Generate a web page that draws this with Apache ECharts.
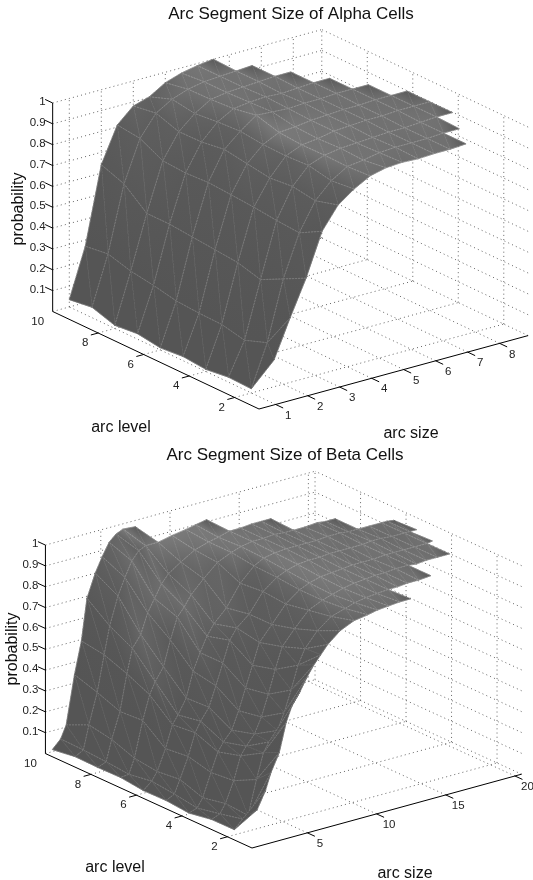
<!DOCTYPE html>
<html><head><meta charset="utf-8">
<style>html,body{margin:0;padding:0;background:#fff}#c{width:533px;height:880px}</style>
<script src="https://cdn.jsdelivr.net/npm/echarts@6/dist/echarts.min.js"></script>
</head><body><div id="c"></div>
<script>
const probTicks = [0.1,0.2,0.3,0.4,0.5,0.6,0.7,0.8,0.9,1];
const probLabels = ['0.1','0.2','0.3','0.4','0.5','0.6','0.7','0.8','0.9','1'];
const levelTicks = [2,4,6,8,10];
const levels = [1,2,3,4,5,6,7,8,9,10];
const alphaSizeTicks = [1,2,3,4,5,6,7,8];
const betaSizeTicks = [5,10,15,20];
const alphaSizes = [1,1.5,2,2.5,3,3.5,4,4.5,5,5.5,6,6.5,7,7.5,8];
const alphaProb = [
 [.21,.39,.56,.764,.869,.925,.967,.985,.99,.986,.99,.99,.995],
 [.02,.22,.505,.705,.838,.913,.96,.97,.985,.99,.99,.99,.995,.995],
 [.024,.18,.45,.713,.855,.935,.963,.975,.98,.985,.99,.99,.995,1,1],
 [.01,.204,.48,.725,.844,.929,.961,.97,.985,.99,.995,.995,1,1,1],
 [.02,.207,.49,.733,.861,.932,.969,.975,.985,.99,.995,.995,1,1,1],
 [.01,.214,.5,.74,.878,.944,1,.995,.99,.995,.995,1,1,1],
 [.026,.237,.51,.734,.862,.9375,.98,.99,.995,.99,.995,1,1],
 [.015,.254,.51,.741,.86,.926,.973,.985,.99,.995,1,1],
 [.05,.285,.6,.797,.897,.943,.97,.985,.99,.995,1],
 [.035,.27,.64,.81,.88,.903,.95,.975,.99,1]
];
const betaSizes = [1.5,2.1,2.5,3.1,3.6,4,4.6,5.1,5.6,6.1,6.6,7.5,8.5,9.5,10.2,11,11.8,12.6,13.3,14,14.8,15.7,16.3,17,17.8,18.7,19.1,19.6];
const betaProb = [
 [.17,.25,.33,.415,.55,.62,.68,.74,.79,.83,.87,.92,.95,.96,.97,.975,.98,.98],
 [.025,.065,.075,.236,.355,.4,.444,.52,.62,.73,.8,.87,.92,.94,.955,.965,.97,.975,.975,.98,.98,.985],
 [.024,.04,.082,.181,.291,.33,.377,.45,.55,.66,.76,.83,.9,.93,.945,.96,.97,.975,.98,.98,.985,.985,.98,.985,.985,.985],
 [.005,.018,.06,.17,.26,.3,.346,.43,.53,.63,.73,.8,.88,.93,.95,.965,.97,.975,.98,.98,.98,.985,.985,.985,.985,.985,.99],
 [.015,.035,.098,.197,.302,.35,.406,.5,.6,.7,.75,.8,.89,.94,.96,.975,.98,.98,.985,.985,.985,.985,.99,.99,.985,.985,.985,.985],
 [.013,.047,.086,.185,.29,.33,.4,.52,.6,.67,.72,.78,.88,.945,.97,.98,.985,.985,.985,.985,.99,.99,.985,.985,.985,.985,.985,.98],
 [.026,.03,.1,.27,.384,.44,.5,.62,.72,.76,.81,.87,.93,.96,.975,.985,.985,.99,.985,.985,.985,.99,.985,.985],
 [.024,.04,.14,.263,.435,.55,.605,.7,.76,.82,.86,.9,.94,.96,.97,.985,.985,.99,.99,.99],
 [.026,.047,.16,.305,.476,.607,.74,.82,.89,.93,.945,.945,.96,.97,.98,.99],
 [.01,.05,.11,.34,.493,.69,.8,.87,.93,.96,.975,.97]
];

const panels = [
 {sizes:alphaSizes,prob:alphaProb,sizeTicks:alphaSizeTicks,F:[259,409],su:[32,-8.73],lu:[-22.75,-10.75],sMin:.48,sMax:8.89,lMin:.93,lMax:10,H:208.5,
  title:'Arc Segment Size of Alpha Cells',tc:[291,14],lv:[121,428],sz:[411,433.5],pr:[19,209]},
 {sizes:betaSizes,prob:betaProb,sizeTicks:betaSizeTicks,F:[252,848],su:[13.84,-3.79],lu:[-22.75,-10.4],sMin:1,sMax:20.48,lMin:.92,lMax:10,H:208.5,
  title:'Arc Segment Size of Beta Cells',tc:[285,455],lv:[115,868],sz:[405,874],pr:[13,649]}
];
function proj(p,s,l,z){
 return [p.F[0]+(s-p.sMin)*p.su[0]+(l-p.lMin)*p.lu[0],
         p.F[1]+(s-p.sMin)*p.su[1]+(l-p.lMin)*p.lu[1]-z*p.H];
}
const unit=v=>{const n=Math.hypot(...v);return v.map(a=>a/n);};
const LIGHT=unit([-.25,-.18,.95]),LOBE=unit([-.85,-.32,.42]);
function shade(p,i,k){
 const r=p.prob[i],sr=p.sMax-p.sMin,lr=p.lMax-p.lMin,S=p.sizes;
 const a=Math.max(k-1,0),b=Math.min(k+1,r.length-1);
 const ds=(r[b]-r[a])/((S[b]-S[a])/sr);
 const u=p.prob[i+1],d=p.prob[i-1];
 const zu=(u&&u[k]!==undefined)?u[k]:r[k],zd=(d&&d[k]!==undefined)?d[k]:r[k];
 const lu=(u&&u[k]!==undefined)?1:0,ld=(d&&d[k]!==undefined)?1:0;
 const dl=(lu+ld)?(zu-zd)/((lu+ld)/lr):0;
 const m=Math.hypot(ds,dl,1);
 const x=Math.max(0,(-ds*LIGHT[0]-dl*LIGHT[1]+LIGHT[2])/m);
 const x2=Math.max(0,(-ds*LOBE[0]-dl*LOBE[1]+LOBE[2])/m);
 const t=Math.min(1,Math.max(0,(r[k]-.25)/.4)),g=t*t*(3-2*t);
 let I=85+g*(12*x*x+26*Math.pow(x,12)+18*Math.pow(x2,60));
 if(lu+ld<2&&k===r.length-1) I=Math.min(I,90);
 return I;
}
function gray(I){const v=Math.round(I);return 'rgb('+v+','+v+','+v+')';}
function fillFor(P,I){
 const e1=[P[1][0]-P[0][0],P[1][1]-P[0][1]],e2=[P[2][0]-P[0][0],P[2][1]-P[0][1]];
 const d1=I[1]-I[0],d2=I[2]-I[0],det=e1[0]*e2[1]-e1[1]*e2[0];
 const mn=Math.min(...I),mx=Math.max(...I);
 if(Math.abs(det)<1e-6||mx-mn<.5) return gray((mn+mx)/2);
 const g=[(d1*e2[1]-d2*e1[1])/det,(e1[0]*d2-e2[0]*d1)/det],q=g[0]*g[0]+g[1]*g[1];
 const A=[P[0][0]+g[0]*(mn-I[0])/q,P[0][1]+g[1]*(mn-I[0])/q];
 const B=[P[0][0]+g[0]*(mx-I[0])/q,P[0][1]+g[1]*(mx-I[0])/q];
 return new echarts.graphic.LinearGradient(A[0],A[1],B[0],B[1],[{offset:0,color:gray(mn)},{offset:1,color:gray(mx)}],true);
}
function buildTris(p){
 const out=[];
 for(let i=0;i<p.prob.length-1;i++){
  const L=p.prob[i],U=p.prob[i+1],n=Math.min(L.length,U.length);
  for(let k=0;k<n-1;k++){
   const a=[i,k],b=[i,k+1],c=[i+1,k+1],d=[i+1,k];
   const depth=(p.sizes[k]-p.sMin)/(p.sMax-p.sMin)+(levels[i]-p.lMin)/(p.lMax-p.lMin);
   out.push({v:[a,b,c],e:[[a,b],[b,c],[a,c]],depth});
   out.push({v:[a,c,d],e:[[c,d],[a,d]],depth});
  }
 }
 out.sort((x,y)=>y.depth-x.depth);
 return out;
}
function surfaceSeries(p){
 const tris=buildTris(p);
 const pt=(n,api)=>api.coord(proj(p,p.sizes[n[1]],levels[n[0]],p.prob[n[0]][n[1]]));
 return {type:'custom',coordinateSystem:'cartesian2d',silent:true,clip:false,progressive:0,animation:false,z:3,
  data:tris.map(t=>proj(p,p.sizes[t.v[0][1]],levels[t.v[0][0]],p.prob[t.v[0][0]][t.v[0][1]])),
  renderItem(params,api){
   const t=tris[params.dataIndex],P=t.v.map(n=>pt(n,api)),I=t.v.map(n=>shade(p,n[0],n[1]));
   const f=fillFor(P,I);
   const ch=[{type:'polygon',shape:{points:P},style:{fill:f,stroke:f,lineWidth:.6}}];
   t.e.forEach(e=>{const A=pt(e[0],api),B=pt(e[1],api);
    const c=(shade(p,e[0][0],e[0][1])+shade(p,e[1][0],e[1][1]))/2+44;
    ch.push({type:'line',shape:{x1:A[0],y1:A[1],x2:B[0],y2:B[1]},style:{stroke:gray(c),lineWidth:.7,lineDash:[2,1]}});});
   return {type:'group',children:ch};
  }};
}
function segSeries(p,segs,style,z){
 return {type:'custom',coordinateSystem:'cartesian2d',silent:true,clip:false,animation:false,progressive:0,z,
  data:segs.map(s=>proj(p,s[0],s[1],s[2])),
  renderItem(params,api){
   const s=segs[params.dataIndex],A=api.coord(proj(p,s[0],s[1],s[2])),B=api.coord(proj(p,s[3],s[4],s[5]));
   return {type:'line',shape:{x1:A[0],y1:A[1],x2:B[0],y2:B[1]},style};
  }};
}
function boxSegs(p){
 const r=[],T=p.sizeTicks,a=p.sMin,b=p.sMax,c=p.lMin,d=p.lMax;
 [0].concat(probTicks).forEach(z=>{r.push([a,d,z,b,d,z]);r.push([b,c,z,b,d,z]);});
 T.forEach(s=>{r.push([s,d,0,s,d,1]);r.push([s,c,0,s,d,0]);});
 levelTicks.forEach(l=>{if(l<d){r.push([b,l,0,b,l,1]);r.push([a,l,0,b,l,0]);}});
 r.push([b,d,0,b,d,1]);
 return r;
}
function axisSegs(p){
 const a=p.sMin,b=p.sMax,c=p.lMin,d=p.lMax,r=[[a,d,0,a,d,1],[a,c,0,a,d,0],[a,c,0,b,c,0]];
 const ls=.33*22.75/Math.abs(p.lu[0]),ss=7.3/Math.abs(p.su[0]);
 probTicks.forEach(z=>r.push([a,d,z,a,d+ls,z]));
 levelTicks.forEach(l=>{if(l<d) r.push([a,l,0,a-ss,l,0]);});
 p.sizeTicks.forEach(s=>r.push([s,c,0,s,c-ls,0]));
 return r;
}
function labelSeries(p){
 const T=[];
 probTicks.forEach((z,i)=>T.push({t:probLabels[i],at:[p.sMin,p.lMax,z],o:[-7,-1],al:'right'}));
 levelTicks.forEach(l=>T.push({t:String(l),at:[p.sMin,l,0],o:[l===10?-15:-13,10],al:'center'}));
 p.sizeTicks.forEach(s=>T.push({t:String(s),at:[s,p.lMin,0],o:[12.5,11],al:'center'}));
 return {type:'custom',coordinateSystem:'cartesian2d',silent:true,clip:false,animation:false,z:6,
  data:T.map(t=>proj(p,t.at[0],t.at[1],t.at[2])),
  renderItem(params,api){
   const t=T[params.dataIndex],A=api.coord(proj(p,t.at[0],t.at[1],t.at[2]));
   return {type:'text',style:{text:t.t,x:A[0]+t.o[0],y:A[1]+t.o[1],fill:'#222',fontSize:11.5,fontFamily:'Liberation Sans',align:t.al,verticalAlign:'middle'}};
  }};
}
const series=[],titles=[],graphics=[];
panels.forEach(p=>{
 series.push(segSeries(p,boxSegs(p),{stroke:'#555',lineWidth:.9,lineDash:[1,3.2]},1));
 series.push(surfaceSeries(p));
 series.push(segSeries(p,axisSegs(p),{stroke:'#000',lineWidth:1},5));
 series.push(labelSeries(p));
 titles.push({text:p.title,left:p.tc[0],top:p.tc[1],textAlign:'center',textVerticalAlign:'middle',padding:0,
  textStyle:{fontFamily:'Liberation Sans',fontSize:17,fontWeight:'normal',color:'#111'}});
 const g=(t,c,rot)=>({type:'text',x:c[0],y:c[1],rotation:rot||0,style:{text:t,fill:'#111',fontSize:16,fontFamily:'Liberation Sans',align:'center',verticalAlign:'middle'}});
 graphics.push(g('arc level',p.lv),g('arc size',p.sz),g('probability',p.pr,Math.PI/2));
});
const chart=echarts.init(document.getElementById('c'),null,{renderer:'canvas'});
chart.setOption({
 animation:false,backgroundColor:'#fff',title:titles,
 grid:{left:0,top:0,width:533,height:880,show:false},
 xAxis:{type:'value',min:0,max:533,show:false},
 yAxis:{type:'value',min:0,max:880,inverse:true,show:false},
 graphic:graphics,series
});
</script></body></html>
